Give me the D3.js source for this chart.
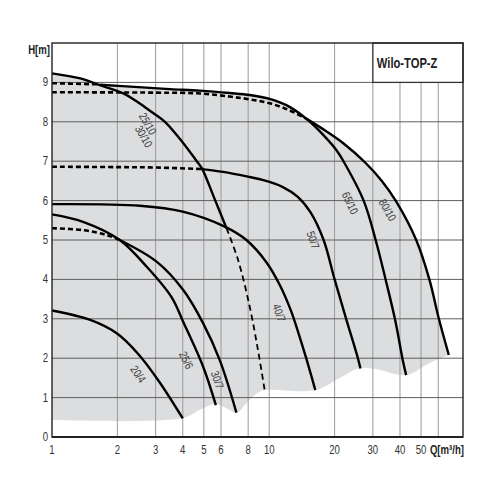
<!DOCTYPE html>
<html><head><meta charset="utf-8">
<script src="https://cdn.jsdelivr.net/npm/d3@7"></script>
<style>
body{margin:0;background:#fff;}
text{font-family:"Liberation Sans",Arial,sans-serif;}
</style></head>
<body>
<script>
// ---------- data ----------
const xTickLabels = [1,2,3,4,5,6,8,10,20,30,40,50];
const xGridValues = [2,3,4,5,6,8,10,20,30,40,50,60];
const yTickLabels = [0,1,2,3,4,5,6,7,8,9];

// curves [Q m3/h, H m]
const c2510 = [[1,9.23],[1.35,9.1],[1.66,8.93],[2.13,8.72],[2.45,8.52],[2.82,8.28],[3.31,8.0],[3.9,7.55],[4.64,7.0],[4.9,6.82],[5.55,6.1],[6.36,5.3]];
const c2510Dashed = [[6.36,5.3],[7.19,4.49],[8.13,3.31],[8.88,2.2],[9.54,1.17]];
const c204 = [[1,3.21],[1.5,2.97],[2,2.62],[2.5,2.1],[3.1,1.42],[4.0,0.47]];
const c256 = [[1,5.65],[1.39,5.46],[2.05,5.0],[2.73,4.32],[3.55,3.55],[4.02,2.92],[4.96,1.79],[5.68,0.81]];
const c307Dashed = [[1,5.3],[1.39,5.25],[1.78,5.13],[2.05,5.0]];
const c307 = [[2.05,5.0],[3.03,4.45],[4.02,3.73],[4.96,2.89],[5.92,1.95],[7.06,0.62]];
const c407 = [[1,5.91],[2.54,5.87],[4.0,5.72],[6.24,5.34],[7.85,5.0],[9.72,4.43],[11.2,3.85],[12.6,3.2],[13.7,2.6],[14.8,2.0],[16.3,1.19]];
const c507Dashed = [[1,6.86],[2,6.85],[3,6.84],[4.9,6.8]];
const c507 = [[4.9,6.8],[6.13,6.73],[8.1,6.6],[9.4,6.52],[11.5,6.35],[13.5,6.1],[15.5,5.7],[17.8,5.0],[20.0,4.0],[22.6,3.0],[25.6,2.0],[26.3,1.74]];
const c6510Dashed = [[1,8.98],[1.66,8.95]];
const c6510 = [[1.66,8.94],[2.5,8.88],[3.5,8.83],[4.79,8.79],[6.58,8.73],[8.13,8.68],[10.05,8.58],[12.4,8.38],[14.8,8.08],[17.5,7.7],[20.4,7.28],[21.8,7.03],[27.2,6.0],[30.9,5.0],[34.4,3.98],[38.0,2.97],[41.2,1.95],[42.7,1.57]];
const c8010Dashed = [[1,8.75],[3,8.74],[4.79,8.72],[6.58,8.64],[8.13,8.57],[10.05,8.47],[12.4,8.29],[14.8,8.08]];
const c8010 = [[14.8,8.08],[18.3,7.76],[22,7.45],[27.5,6.98],[33,6.5],[38.4,5.98],[47.5,5.0],[54.6,4.0],[60.4,3.0],[67.1,2.08]];
const grayBottom = [[1,0.43],[4.0,0.48],[4.79,0.69],[5.68,0.84],[6.31,0.74],[7.09,0.61],[7.72,0.81],[8.85,1.12],[9.54,1.19],[16.3,1.19],[21.1,1.5],[26.2,1.75],[30.5,1.73],[42.7,1.57],[54.7,1.88],[67.1,2.08]];
const curveNames = ["25/10","30/10","20/4","25/6","30/7","40/7","50/7","65/10","80/10"];

// ---------- drawing ----------
const W = 500, H = 500;
const SX = 0.8; // condensed look
const svg = d3.select("body").append("svg").attr("width", W).attr("height", H);
const x = d3.scaleLog().domain([1, 78]).range([52, 463]);
const y = d3.scaleLinear().domain([0, 10]).range([437, 43]);
const line = d3.line().x(d => x(d[0])).y(d => y(d[1])).curve(d3.curveCatmullRom.alpha(0.5));

// gray operating range
const envTop = c2510.slice(0, 3)
  .concat(c6510.filter(d => d[0] > 1.66 && d[0] <= 14.8))
  .concat(c8010.slice(1));
const bottomD = line(grayBottom.slice().reverse());
const fillD = line(envTop) + "L" + bottomD.slice(1) + "Z";
svg.append("path").attr("d", fillD).attr("fill", "#dcdddf").attr("stroke", "none");

// grid
svg.append("g").selectAll("line").data(xGridValues).join("line")
  .attr("x1", d => x(d)).attr("x2", d => x(d)).attr("y1", y(0)).attr("y2", y(10))
  .attr("stroke", "#9a9a9a").attr("stroke-width", 1);
svg.append("g").selectAll("line").data(yTickLabels.filter(d => d > 0)).join("line")
  .attr("x1", x(1)).attr("x2", x(78)).attr("y1", d => y(d)).attr("y2", d => y(d))
  .attr("stroke", "#5e5e5e").attr("stroke-width", 1);

// legend box
svg.append("rect").attr("x", x(30)).attr("y", y(10)).attr("width", x(78) - x(30)).attr("height", y(9) - y(10))
  .attr("fill", "#fff").attr("stroke", "#333").attr("stroke-width", 1.3);
svg.append("text").attr("transform", `translate(${x(30) + 4},${(y(10) + y(9)) / 2 + 5}) scale(${SX},1)`)
  .attr("font-size", 14).attr("font-weight", "bold").attr("fill", "#222").text("Wilo-TOP-Z");

// curves
function draw(data, dashed, w, dash) {
  svg.append("path").attr("d", line(data)).attr("fill", "none").attr("stroke", "#000")
    .attr("stroke-width", w).attr("stroke-dasharray", dashed ? dash : null);
}
draw(c8010Dashed, true, 2.6, "5,3");
draw(c6510Dashed, true, 2.6, "5,3");
draw(c507Dashed, true, 2.6, "5,3");
draw(c307Dashed, true, 2.6, "5,3");
draw(c2510Dashed, true, 1.8, "6,4");
[c2510, c204, c256, c307, c407, c507, c6510, c8010].forEach(c => draw(c, false, 2.4));

// curve labels (placed just left of their curves)
const labelPos = [
  {t: curveNames[0], q: 2.88, h: 7.95, a: 60},
  {t: curveNames[1], q: 2.76, h: 7.63, a: 60},
  {t: curveNames[2], q: 2.6, h: 1.6, a: 55},
  {t: curveNames[3], q: 4.33, h: 1.95, a: 65},
  {t: curveNames[4], q: 6.02, h: 1.45, a: 70},
  {t: curveNames[5], q: 11.6, h: 3.15, a: 70},
  {t: curveNames[6], q: 16.6, h: 5.0, a: 70},
  {t: curveNames[7], q: 24.6, h: 5.94, a: 65},
  {t: curveNames[8], q: 36.6, h: 5.76, a: 60}
];
svg.append("g").selectAll("text").data(labelPos).join("text")
  .attr("transform", d => `translate(${x(d.q) - 4},${y(d.h)}) rotate(${d.a}) scale(${SX},1)`)
  .attr("text-anchor", "middle").attr("dy", "0.35em")
  .attr("font-size", 11.5).attr("fill", "#3a3a3a").text(d => d.t);

// frame
svg.append("rect").attr("x", x(1)).attr("y", y(10)).attr("width", x(78) - x(1)).attr("height", y(0) - y(10))
  .attr("fill", "none").attr("stroke", "#222").attr("stroke-width", 1.4);
svg.append("line").attr("x1", x(1)).attr("x2", x(78)).attr("y1", y(0)).attr("y2", y(0))
  .attr("stroke", "#222").attr("stroke-width", 2);

// tick labels
svg.append("g").selectAll("text").data(xTickLabels).join("text")
  .attr("transform", d => `translate(${x(d)},454) scale(${SX},1)`).attr("text-anchor", "middle")
  .attr("font-size", 12).attr("fill", "#333").text(d => d);
svg.append("g").selectAll("text").data(yTickLabels).join("text")
  .attr("transform", d => `translate(48,${y(d) + 4}) scale(${SX},1)`).attr("text-anchor", "end")
  .attr("font-size", 12).attr("fill", "#333").text(d => d);
svg.append("text").attr("transform", `translate(50,54) scale(${SX},1)`).attr("text-anchor", "end")
  .attr("font-size", 12).attr("font-weight", "bold").attr("fill", "#222").text("H[m]");
svg.append("text").attr("transform", `translate(464,454) scale(${SX},1)`).attr("text-anchor", "end")
  .attr("font-size", 12).attr("font-weight", "bold").attr("fill", "#222").text("Q[m³/h]");
</script>
</body></html>
